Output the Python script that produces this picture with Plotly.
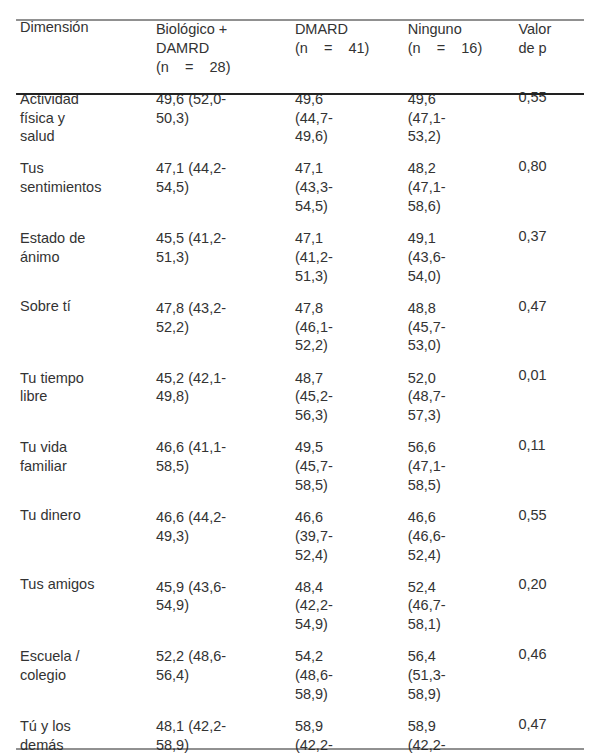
import plotly.graph_objects as go

nb = "\u00a0"
headers = ["Dimensión", "Biológico +<br>DAMRD<br>(n" + nb*4 + "=" + nb*4 + "28)",
           "DMARD<br>(n" + nb*4 + "=" + nb*4 + "41)", "Ninguno<br>(n" + nb*4 + "=" + nb*4 + "16)", "Valor<br>de p"]
dimensions = ["Actividad<br>física y<br>salud", "Tus<br>sentimientos", "Estado de<br>ánimo", "Sobre tí",
              "Tu tiempo<br>libre", "Tu vida<br>familiar", "Tu dinero", "Tus amigos", "Escuela /<br>colegio",
              "Tú y los<br>demás"]
biologico = ["49,6 (52,0-<br>50,3)", "47,1 (44,2-<br>54,5)", "45,5 (41,2-<br>51,3)", "47,8 (43,2-<br>52,2)",
             "45,2 (42,1-<br>49,8)", "46,6 (41,1-<br>58,5)", "46,6 (44,2-<br>49,3)", "45,9 (43,6-<br>54,9)",
             "52,2 (48,6-<br>56,4)", "48,1 (42,2-<br>58,9)"]
dmard = ["49,6<br>(44,7-<br>49,6)", "47,1<br>(43,3-<br>54,5)", "47,1<br>(41,2-<br>51,3)", "47,8<br>(46,1-<br>52,2)",
         "48,7<br>(45,2-<br>56,3)", "49,5<br>(45,7-<br>58,5)", "46,6<br>(39,7-<br>52,4)", "48,4<br>(42,2-<br>54,9)",
         "54,2<br>(48,6-<br>58,9)", "58,9<br>(42,2-<br>58,9)"]
ninguno = ["49,6<br>(47,1-<br>53,2)", "48,2<br>(47,1-<br>58,6)", "49,1<br>(43,6-<br>54,0)", "48,8<br>(45,7-<br>53,0)",
           "52,0<br>(48,7-<br>57,3)", "56,6<br>(47,1-<br>58,5)", "46,6<br>(46,6-<br>52,4)", "52,4<br>(46,7-<br>58,1)",
           "56,4<br>(51,3-<br>58,9)", "58,9<br>(42,2-<br>58,9)"]
valor_p = ["0,55", "0,80", "0,37", "0,47", "0,01", "0,11", "0,55", "0,20", "0,46", "0,47"]

font = dict(family="Arial", size=14.5, color="#333333")
fig = go.Figure(go.Table(
    columnwidth=[135, 138, 112, 110, 79],
    header=dict(values=headers, align="left", height=68, font=font,
                fill_color="white", line_color="white"),
    cells=dict(values=[dimensions, biologico, dmard, ninguno, valor_p], align="left",
               height=64, font=font, fill_color="white", line_color="white"),
))
fig.update_layout(width=592, height=754, margin=dict(l=4, r=10, t=5, b=6),
                  paper_bgcolor="white")
plot_h = 754 - 5 - 6
def py(pix):
    return (754 - 6 - pix) / plot_h
for y, w in [(py(12), 1), (py(86), 2), (py(741), 1)]:
    fig.add_shape(type="line", xref="paper", yref="paper", x0=0.007, x1=1, y0=y, y1=y,
                  line=dict(color="#222222", width=w))
fig.write_html("out.html")
